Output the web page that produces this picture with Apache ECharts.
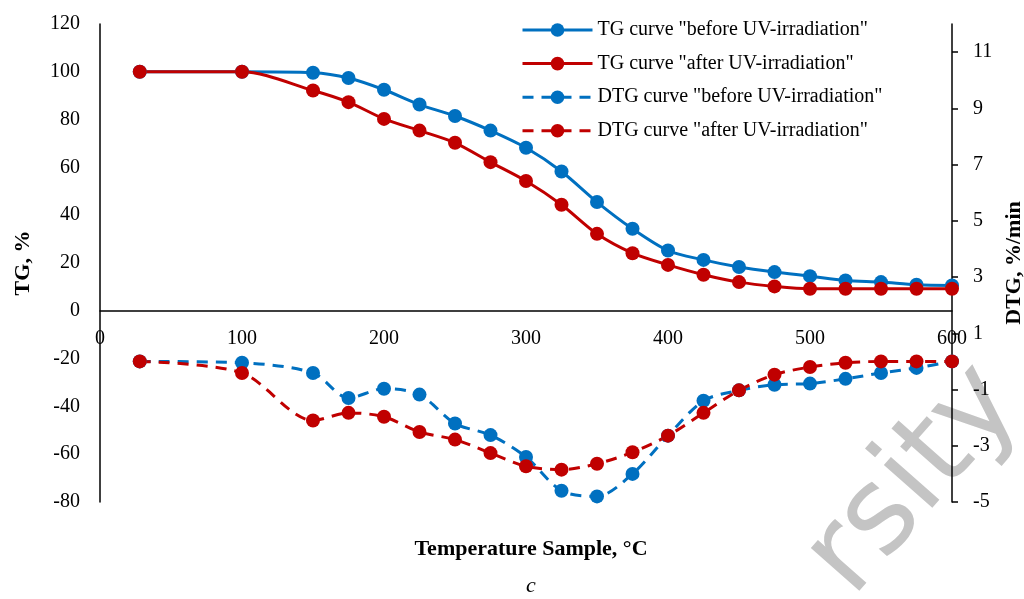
<!DOCTYPE html>
<html>
<head>
<meta charset="utf-8">
<script src="https://cdn.jsdelivr.net/npm/echarts@6/dist/echarts.min.js"></script>
<style>html,body{margin:0;padding:0;background:#fff;}#c{width:1024px;height:599px;}</style>
</head>
<body>
<div id="c"></div>
<script>
var temps = [28,100,150,175,200,225,250,275,300,325,350,375,400,425,450,475,500,525,550,575,600];
var tgBefore = [100,100,99.6,97.4,92.5,86.3,81.5,75.4,68.2,58.3,45.5,34.3,25.2,21.3,18.3,16.2,14.5,12.7,12.0,10.9,10.6];
var tgAfter = [100,100,92.2,87.3,80.3,75.4,70.3,62.2,54.3,44.4,32.2,24.1,19.2,15.1,12.0,10.2,9.2,9.2,9.2,9.2,9.2];
var dtgBefore = [0,-0.05,-0.41,-1.30,-0.97,-1.18,-2.21,-2.62,-3.40,-4.60,-4.80,-4.0,-2.64,-1.40,-1.03,-0.83,-0.79,-0.62,-0.41,-0.23,0];
var dtgAfter = [0,-0.41,-2.10,-1.83,-1.97,-2.51,-2.78,-3.26,-3.73,-3.85,-3.64,-3.23,-2.64,-1.83,-1.03,-0.47,-0.2,-0.05,0,0,0];
var seriesNames = ['TG curve "before UV-irradiation"','TG curve "after UV-irradiation"','DTG curve "before UV-irradiation"','DTG curve "after UV-irradiation"'];
var rightTicks = [-5,-3,-1,1,3,5,7,9,11];

function pairs(xs, ys){ return xs.map(function(x,i){ return [x, ys[i]]; }); }

var BLUE = '#0070C0', RED = '#C00000';
var FONT = 'Liberation Serif';
function mk(name, data, color, yIdx, dashed){
  return {
    name: name, type: 'line', yAxisIndex: yIdx, data: data,
    smooth: 0.3, symbol: 'circle', symbolSize: 14,
    itemStyle: {color: color},
    lineStyle: {color: color, width: 3, type: dashed ? [11,8] : 'solid'},
    emphasis: {disabled: true}, animation: false
  };
}

var chart = echarts.init(document.getElementById('c'));
chart.setOption({
  animation: false,
  textStyle: {fontFamily: FONT},
  grid: {left: 100, right: 72, top: 24, bottom: 97, outerBoundsMode: 'none', containLabel: false},
  title: [
    {text: 'Temperature Sample, °C', left: 526, top: 533, textAlign: 'center',
     textStyle: {fontFamily: FONT, fontSize: 22, fontWeight: 'bold', color: '#000'}},
    {text: 'c', left: 526, top: 570, textAlign: 'center',
     textStyle: {fontFamily: FONT, fontSize: 22, fontStyle: 'italic', fontWeight: 'normal', color: '#000'}}
  ],
  legend: {
    orient: 'vertical', left: 516, top: 15,
    itemWidth: 70, itemHeight: 17, itemGap: 13.6,
    lineStyle: {width: 3},
    textStyle: {fontFamily: FONT, fontSize: 20, color: '#000', lineHeight: 20},
    data: seriesNames
  },
  graphic: [{
    type: 'text', z: -10, left: 785, top: 345, rotation: 0.85,
    style: {text: 'rsity', fontSize: 118, fontFamily: 'DejaVu Sans', fontWeight: 'normal', fill: '#C4C4C4'}
  }],
  xAxis: {
    type: 'value', min: 0, max: 600, interval: 100,
    offset: -191,
    axisLine: {show: true, onZero: false, lineStyle: {color: '#000', width: 1.5}},
    axisTick: {show: false}, splitLine: {show: false},
    axisLabel: {fontFamily: FONT, fontSize: 20, color: '#000', margin: 18}
  },
  yAxis: [
    {
      type: 'value', min: -80, max: 120, interval: 20, position: 'left',
      name: 'TG, %', nameLocation: 'middle', nameGap: 66, nameRotate: 90,
      nameTextStyle: {fontFamily: FONT, fontSize: 22, fontWeight: 'bold', color: '#000'},
      axisLine: {show: true, onZero: false, lineStyle: {color: '#000', width: 1.5}},
      axisTick: {show: false}, splitLine: {show: false},
      axisLabel: {fontFamily: FONT, fontSize: 20, color: '#000', margin: 20}
    },
    {
      type: 'value', min: -5, max: 12, interval: 2, position: 'right',
      name: 'DTG, %/min', nameLocation: 'middle', nameGap: 49, nameRotate: 90,
      nameTextStyle: {fontFamily: FONT, fontSize: 22, fontWeight: 'bold', color: '#000'},
      axisLine: {show: true, onZero: false, lineStyle: {color: '#000', width: 1.5}},
      axisTick: {show: true, length: 6, customValues: rightTicks, lineStyle: {color: '#000', width: 1.5}},
      splitLine: {show: false},
      axisLabel: {fontFamily: FONT, fontSize: 20, color: '#000', margin: 21, customValues: rightTicks}
    }
  ],
  series: [
    mk(seriesNames[0], pairs(temps, tgBefore), BLUE, 0, false),
    mk(seriesNames[1], pairs(temps, tgAfter), RED, 0, false),
    mk(seriesNames[2], pairs(temps, dtgBefore), BLUE, 1, true),
    mk(seriesNames[3], pairs(temps, dtgAfter), RED, 1, true)
  ]
});
</script>
</body>
</html>
